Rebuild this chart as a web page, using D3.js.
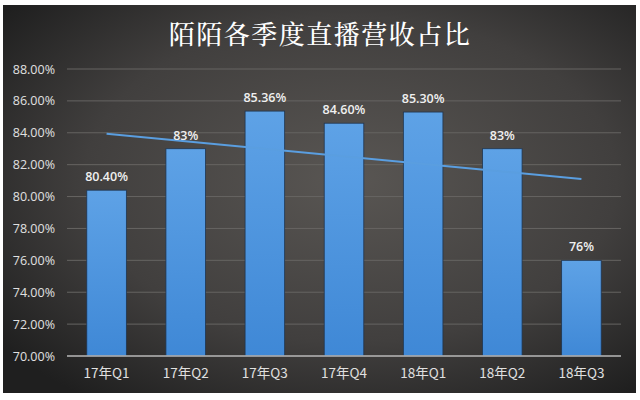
<!DOCTYPE html>
<html><head><meta charset="utf-8">
<script src="https://cdn.jsdelivr.net/npm/d3@7"></script>
<style>html,body{margin:0;padding:0;background:#fff;}svg{display:block;}</style>
</head><body><svg id="c" width="640" height="400"></svg>
<script>
const title = "陌陌各季度直播营收占比";
const categories = ["17年Q1","17年Q2","17年Q3","17年Q4","18年Q1","18年Q2","18年Q3"];
const values = [80.40, 83, 85.36, 84.60, 85.30, 83, 76];
const valueLabels = ["80.40%","83%","85.36%","84.60%","85.30%","83%","76%"];
const yTicks = [70,72,74,76,78,80,82,84,86,88];

const svg = d3.select("#c");
const defs = svg.append("defs");
const bg = defs.append("radialGradient").attr("id","bg").attr("cx","55%").attr("cy","45%").attr("r","70%");
bg.append("stop").attr("offset","0%").attr("stop-color","#595653");
bg.append("stop").attr("offset","60%").attr("stop-color","#413f3e");
bg.append("stop").attr("offset","100%").attr("stop-color","#1f1f1f");
const bar = defs.append("linearGradient").attr("id","bar").attr("x1",0).attr("y1",0).attr("x2",0).attr("y2",1);
bar.append("stop").attr("offset","0%").attr("stop-color","#5ea2e6");
bar.append("stop").attr("offset","100%").attr("stop-color","#3f88d6");

svg.append("rect").attr("x",3).attr("y",5).attr("width",633).attr("height",388).attr("fill","url(#bg)");

const x = d3.scaleBand().domain(categories).range([67,621]).paddingInner(0.5).paddingOuter(0.25);
const y = d3.scaleLinear().domain([70,88]).range([356,69]);

// gridlines
svg.append("g").selectAll("line").data(yTicks.slice(1)).join("line")
  .attr("x1",67).attr("x2",621).attr("y1",d=>y(d)).attr("y2",d=>y(d))
  .attr("stroke","#666462").attr("stroke-width",1);

// y axis labels
const ya = svg.append("g").attr("transform","translate(55,0)")
  .call(d3.axisLeft(y).tickValues(yTicks).tickFormat(d=>d.toFixed(2)+"%").tickSize(0).tickPadding(0));
ya.select(".domain").remove();
ya.selectAll("text").attr("fill","#e0e0e0").attr("font-size",12.5).attr("font-family","'Open Sans','DejaVu Sans',sans-serif");

// bars
svg.append("g").selectAll("rect").data(values).join("rect")
  .attr("x",(d,i)=>x(categories[i])).attr("width",x.bandwidth())
  .attr("y",d=>y(d)).attr("height",d=>y(70)-y(d))
  .attr("fill","url(#bar)").attr("stroke","#1f3550").attr("stroke-width",0.8);

// baseline
svg.append("line").attr("x1",67).attr("x2",621).attr("y1",y(70)).attr("y2",y(70))
  .attr("stroke","#b8b8b8").attr("stroke-width",1.5);

// x axis labels
const xa = svg.append("g").attr("transform",`translate(0,${y(70)})`)
  .call(d3.axisBottom(x).tickSize(0).tickPadding(12));
xa.select(".domain").remove();
xa.selectAll("text").attr("fill","#e0e0e0").attr("font-size",13.5).attr("font-family","'Noto Sans CJK SC',sans-serif");

// linear trendline computed from data
const n = values.length;
const mx = (n-1)/2, my = d3.mean(values);
const slope = d3.sum(values,(v,i)=>(i-mx)*(v-my))/d3.sum(values,(v,i)=>(i-mx)*(i-mx));
const trend = [0,n-1].map(i=>[x(categories[i])+x.bandwidth()/2, y(my+slope*(i-mx))]);
svg.append("path").attr("d",d3.line()(trend)).attr("stroke","#5a9ee0").attr("stroke-width",2).attr("fill","none");

// value labels
svg.append("g").selectAll("text").data(values).join("text")
  .attr("x",(d,i)=>x(categories[i])+x.bandwidth()/2).attr("y",d=>y(d)-9)
  .attr("text-anchor","middle").attr("fill","#f0f0f0").attr("font-size",12.5).attr("font-weight",600)
  .attr("font-family","'Open Sans','DejaVu Sans',sans-serif")
  .text((d,i)=>valueLabels[i]);

// title
svg.append("text").attr("x",320).attr("y",44).attr("text-anchor","middle")
  .attr("fill","#ffffff").attr("font-size",26).attr("font-weight",500).attr("letter-spacing",1.5)
  .attr("font-family","'Noto Serif CJK SC','Noto Sans CJK SC',sans-serif").text(title);
</script></body></html>
